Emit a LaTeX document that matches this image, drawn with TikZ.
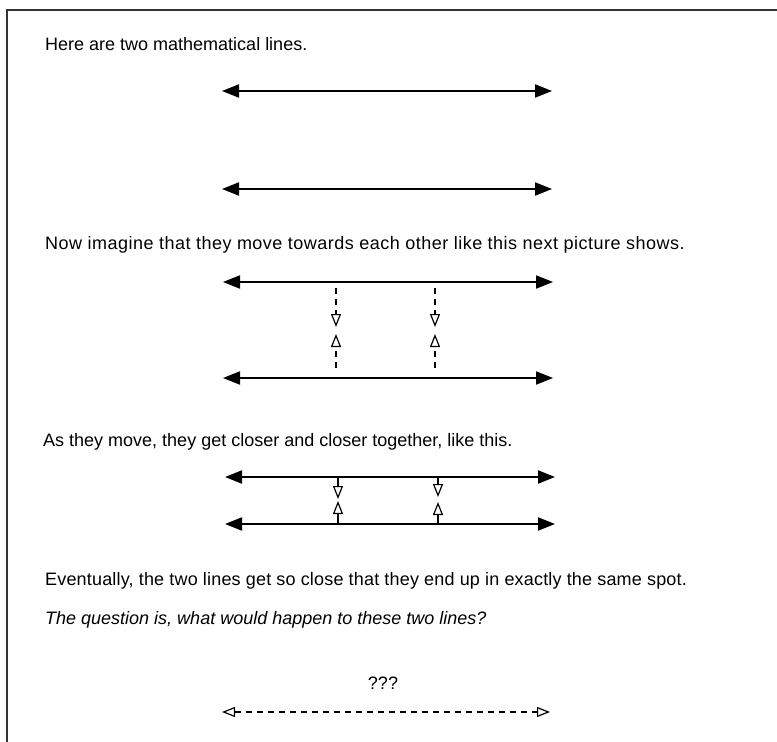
\documentclass[tikz,border=0pt]{standalone}
\usepackage{fontspec}
\setmainfont{Liberation Sans}
\usetikzlibrary{arrows.meta,positioning,calc}
\definecolor{frameline}{HTML}{333333}

\begin{document}
\begin{tikzpicture}[x=1pt,y=-1pt,
  txt/.style={anchor=base west,inner sep=0pt,font=\fontsize{18}{22}\selectfont},
  mathline/.style={{Triangle[length=17pt,width=13pt]}-{Triangle[length=17pt,width=13pt]},line width=2pt},
  moveline/.style={-{Triangle[open,length=13pt,width=10pt]},line width=1.2pt,dash pattern=on 6pt off 5pt},
  nearline/.style={-{Triangle[open,length=13pt,width=10pt]},line width=1.2pt}
]
\useasboundingbox (0,0) rectangle (777,742);
% frame
\draw[line width=1.5pt,draw=frameline] (7,742) -- (7,10) -- (777,10);

% two lines
\node[txt] (intro) at (45,50) {Here are two mathematical lines.};
\coordinate (l1w) at (222,91);  \coordinate (l1e) at (552,91);
\coordinate (l2w) at (222,189); \coordinate (l2e) at (552,189);
\draw[mathline] (l1w) -- (l1e);
\draw[mathline] (l2w) -- (l2e);

% moving towards each other
\node[txt] (imagine) at (45,249) {\addfontfeatures{LetterSpace=2.7}Now imagine that they move towards each other like this next picture shows.};
\coordinate (l3w) at (223,282); \coordinate (l3e) at (553,282);
\coordinate (l4w) at (223,378); \coordinate (l4e) at (553,378);
\draw[mathline] (l3w) -- (l3e);
\draw[mathline] (l4w) -- (l4e);
\coordinate (ma1) at (336,288); \coordinate (ma2) at (336,327);
\coordinate (mb1) at (336,368); \coordinate (mb2) at (336,334);
\coordinate (mc1) at (435,288); \coordinate (mc2) at (435,327);
\coordinate (md1) at (435,368); \coordinate (md2) at (435,334);
\draw[moveline] (ma1) -- (ma2);
\draw[moveline] (mb1) -- (mb2);
\draw[moveline] (mc1) -- (mc2);
\draw[moveline] (md1) -- (md2);

% closer together
\node[txt] (closer) at (43,446) {As they move, they get closer and closer together, like this.};
\coordinate (l5w) at (225,477); \coordinate (l5e) at (555,477);
\coordinate (l6w) at (225,524); \coordinate (l6e) at (555,524);
\draw[mathline] (l5w) -- (l5e);
\draw[mathline] (l6w) -- (l6e);
\draw[nearline] (l5w -| 338,0) -- (338,499);
\draw[nearline] (l6w -| 338,0) -- (338,501);
\draw[nearline] (l5w -| 438,0) -- (438,497);
\draw[nearline] (l6w -| 438,0) -- (438,502);

% same spot
\node[txt] (same) at (45,585) {\addfontfeatures{LetterSpace=1}Eventually, the two lines get so close that they end up in exactly the same spot.};
\node[txt,font=\fontsize{18}{22}\selectfont\itshape] (question) at (45,624) {The question is, what would happen to these two lines?};
\node[txt,anchor=base] (unknown) at (383,689) {???};
\coordinate (l7w) at (222,712); \coordinate (l7e) at (550,712);
\draw[{Triangle[open,length=13pt,width=10pt]}-{Triangle[open,length=13pt,width=10pt]},line width=1.2pt,dash pattern=on 6pt off 5pt] (l7w) -- (l7e);
\end{tikzpicture}
\end{document}
